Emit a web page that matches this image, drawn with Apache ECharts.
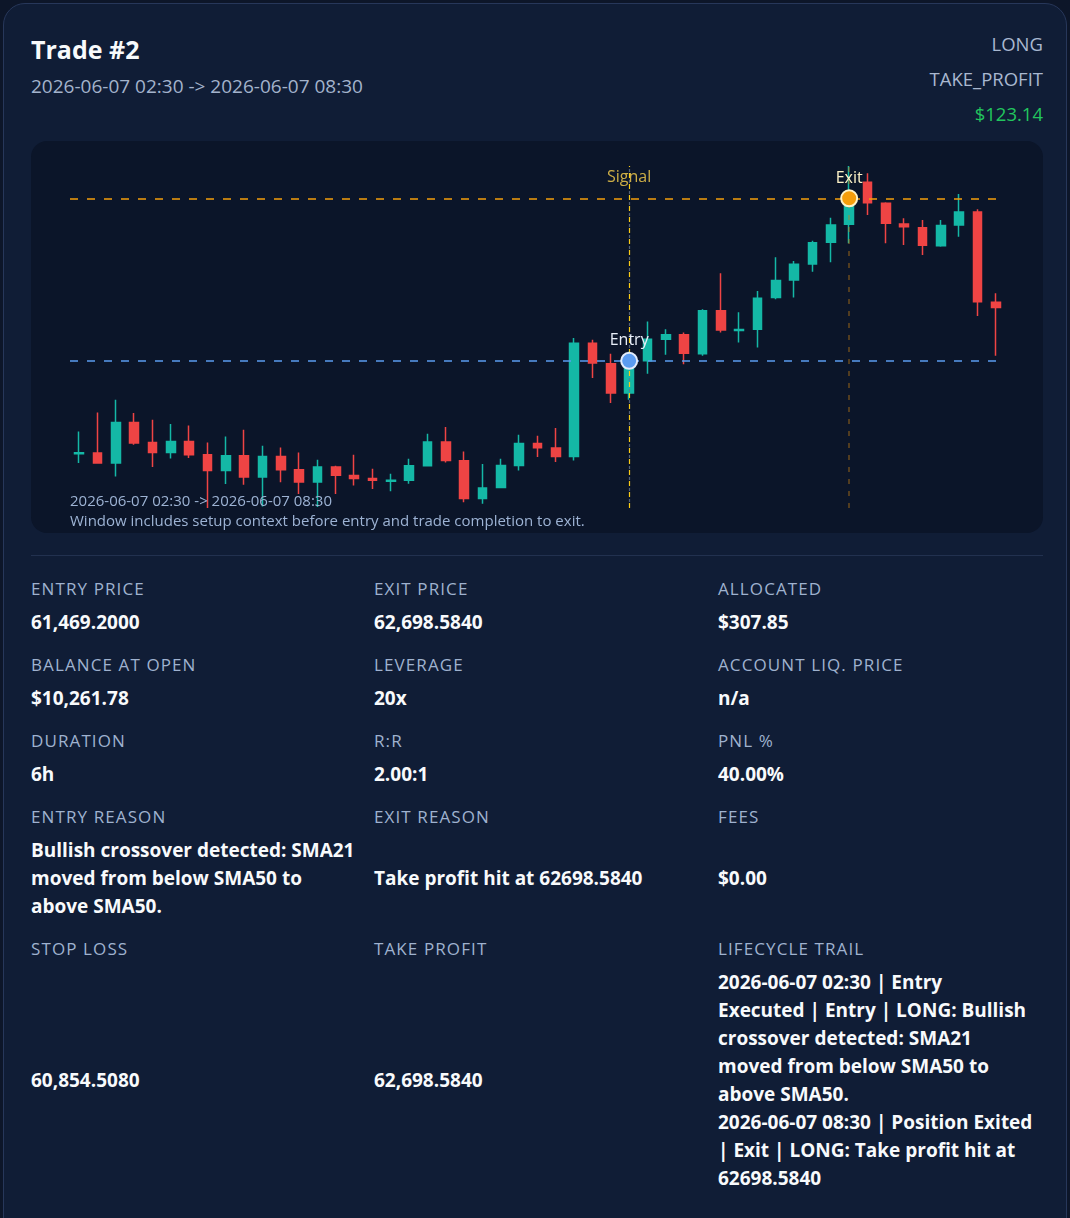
<!DOCTYPE html>
<html>
<head>
<meta charset="utf-8">
<script src="https://cdn.jsdelivr.net/npm/echarts@6/dist/echarts.min.js"></script>
<style>
  html, body { margin: 0; padding: 0; background: #0d1629; width: 1070px; height: 1218px; overflow: hidden; }
  body { font-family: "Segoe UI", "Open Sans", sans-serif; color: #f1f5f9; }
  .card { position: absolute; left: 3px; top: 3px; width: 1062px; height: 1240px; background: #101d36; border: 1px solid #27375a; border-radius: 22px; }
  .abs { position: absolute; white-space: nowrap; }
  .title { left: 31px; top: 33px; font-size: 25px; font-weight: 700; line-height: 32px; color: #f8fafc; }
  .sub { left: 31px; top: 74px; font-size: 19px; line-height: 24px; color: #a3b3cc; }
  .right { right: 27px; font-size: 18.5px; line-height: 24px; color: #a9b8d0; text-align: right; }
  .chartbox { position: absolute; left: 31px; top: 141px; width: 1012px; height: 392px; background: #0b1529; border-radius: 16px; overflow: hidden; }
  #chart { position: absolute; left: 0; top: 0; width: 1012px; height: 392px; }
  .note { position: absolute; left: 39px; font-size: 15px; line-height: 18px; color: #9db3d4; white-space: nowrap; }
  .sep { position: absolute; left: 31px; top: 555px; width: 1012px; height: 1px; background: #22314f; }
  .grid { position: absolute; left: 31px; top: 577px; width: 1030px; display: grid; grid-template-columns: 343px 344px 343px; row-gap: 17px; }
  .cell { display: flex; flex-direction: column; }
  .lab { font-size: 17px; line-height: 24px; letter-spacing: 0.065em; color: #9fb2cf; white-space: nowrap; }
  .val { flex: 1; display: flex; align-items: center; margin-top: 7px; font-size: 19px; font-weight: 700; line-height: 28px; color: #f8fafc; white-space: nowrap; }
</style>
</head>
<body>
<div class="card"></div>
<div class="abs title">Trade #2</div>
<div class="abs sub">2026-06-07 02:30 -&gt; 2026-06-07 08:30</div>
<div class="abs right" style="top:32px">LONG</div>
<div class="abs right" style="top:67px">TAKE_PROFIT</div>
<div class="abs right" style="top:102px;color:#22c55e">$123.14</div>

<div class="chartbox">
  <div id="chart"></div>
  <div class="note" style="top:350px">2026-06-07 02:30 -&gt; 2026-06-07 08:30</div>
  <div class="note" style="top:370px">Window includes setup context before entry and trade completion to exit.</div>
</div>
<div class="sep"></div>

<div class="grid">
  <div class="cell"><div class="lab">ENTRY PRICE</div><div class="val">61,469.2000</div></div>
  <div class="cell"><div class="lab">EXIT PRICE</div><div class="val">62,698.5840</div></div>
  <div class="cell"><div class="lab">ALLOCATED</div><div class="val">$307.85</div></div>

  <div class="cell"><div class="lab">BALANCE AT OPEN</div><div class="val">$10,261.78</div></div>
  <div class="cell"><div class="lab">LEVERAGE</div><div class="val">20x</div></div>
  <div class="cell"><div class="lab">ACCOUNT LIQ. PRICE</div><div class="val">n/a</div></div>

  <div class="cell"><div class="lab">DURATION</div><div class="val">6h</div></div>
  <div class="cell"><div class="lab">R:R</div><div class="val">2.00:1</div></div>
  <div class="cell"><div class="lab">PNL %</div><div class="val">40.00%</div></div>

  <div class="cell"><div class="lab">ENTRY REASON</div><div class="val">Bullish crossover detected: SMA21<br>moved from below SMA50 to<br>above SMA50.</div></div>
  <div class="cell"><div class="lab">EXIT REASON</div><div class="val">Take profit hit at 62698.5840</div></div>
  <div class="cell"><div class="lab">FEES</div><div class="val">$0.00</div></div>

  <div class="cell"><div class="lab">STOP LOSS</div><div class="val">60,854.5080</div></div>
  <div class="cell"><div class="lab">TAKE PROFIT</div><div class="val">62,698.5840</div></div>
  <div class="cell"><div class="lab">LIFECYCLE TRAIL</div><div class="val"><div>2026-06-07 02:30 | Entry<br>Executed | Entry | LONG: Bullish<br>crossover detected: SMA21<br>moved from below SMA50 to<br>above SMA50.<br>2026-06-07 08:30 | Position Exited<br>| Exit | LONG: Take profit hit at<br>62698.5840</div></div></div>
</div>

<script>
// ---- data ----
const times = [
  '2026-06-06 11:30','2026-06-06 12:00','2026-06-06 12:30','2026-06-06 13:00','2026-06-06 13:30',
  '2026-06-06 14:00','2026-06-06 14:30','2026-06-06 15:00','2026-06-06 15:30','2026-06-06 16:00',
  '2026-06-06 16:30','2026-06-06 17:00','2026-06-06 17:30','2026-06-06 18:00','2026-06-06 18:30',
  '2026-06-06 19:00','2026-06-06 19:30','2026-06-06 20:00','2026-06-06 20:30','2026-06-06 21:00',
  '2026-06-06 21:30','2026-06-06 22:00','2026-06-06 22:30','2026-06-06 23:00','2026-06-06 23:30',
  '2026-06-07 00:00','2026-06-07 00:30','2026-06-07 01:00','2026-06-07 01:30','2026-06-07 02:00',
  '2026-06-07 02:30','2026-06-07 03:00','2026-06-07 03:30','2026-06-07 04:00','2026-06-07 04:30',
  '2026-06-07 05:00','2026-06-07 05:30','2026-06-07 06:00','2026-06-07 06:30','2026-06-07 07:00',
  '2026-06-07 07:30','2026-06-07 08:00','2026-06-07 08:30','2026-06-07 09:00','2026-06-07 09:30',
  '2026-06-07 10:00','2026-06-07 10:30','2026-06-07 11:00','2026-06-07 11:30','2026-06-07 12:00',
  '2026-06-07 12:30'
];
const opens = [
  60766, 60772, 60696, 61003, 60852, 60776, 60859, 60759, 60640, 60751,
  60590, 60746, 60645, 60553, 60666, 60602, 60580, 60559, 60565, 60676,
  60855, 60714, 60427, 60512, 60678, 60844, 60810, 60746, 61603, 61447,
  61225, 61469, 61633, 61666, 61522, 61849, 61698, 61709, 61948, 62081,
  62202, 62366, 62502, 62820, 62661, 62504, 62476, 62340, 62497, 62595,
  61913
];
const closes = [
  60774, 60696, 61003, 60847, 60776, 60859, 60759, 60640, 60751, 60590,
  60746, 60646, 60553, 60666, 60603, 60580, 60565, 60565, 60676, 60855,
  60716, 60427, 60507, 60678, 60844, 60812, 60746, 61603, 61452, 61225,
  61492, 61633, 61666, 61527, 61849, 61703, 61706, 61943, 62076, 62200,
  62363, 62497, 62746, 62665, 62510, 62484, 62343, 62492, 62595, 61917,
  61872
];
const lows = [
  60696, 60691, 60595, 60835, 60666, 60731, 60734, 60356, 60538, 60532,
  60368, 60551, 60462, 60364, 60462, 60527, 60500, 60482, 60540, 60671,
  60701, 60399, 60389, 60507, 60640, 60742, 60704, 60716, 61339, 61150,
  61175, 61371, 61515, 61444, 61507, 61683, 61608, 61570, 61935, 61948,
  62144, 62215, 62359, 62572, 62359, 62346, 62270, 62333, 62408, 61809,
  61507
];
const highs = [
  60935, 61079, 61175, 61074, 61023, 60991, 60980, 60852, 60897, 60948,
  60827, 60814, 60776, 60721, 60676, 60759, 60653, 60615, 60729, 60918,
  60968, 60784, 60689, 60729, 60910, 60903, 60961, 61641, 61628, 61522,
  61537, 61766, 61709, 61683, 61860, 62132, 61837, 61998, 62253, 62225,
  62378, 62552, 62943, 62888, 62668, 62547, 62535, 62535, 62731, 62615,
  61981
];
const entryTime = '2026-06-07 02:30';
const exitTime = '2026-06-07 08:30';
const entryPrice = 61469.2;
const exitPrice = 62698.584;

// ---- chart ----
const candles = times.map((t, i) => [opens[i], closes[i], lows[i], highs[i]]);
const topPrice = Math.max.apply(null, highs);
const UP = '#14b8a6', DOWN = '#ef4444';
const FONT = '"Segoe UI","Open Sans",sans-serif';

const chart = echarts.init(document.getElementById('chart'), null, { renderer: 'canvas' });
chart.setOption({
  animation: false,
  backgroundColor: 'transparent',
  grid: { left: 39, right: 38, top: 25, bottom: 25 },
  xAxis: {
    type: 'category', data: times, boundaryGap: true,
    axisLine: { show: false }, axisTick: { show: false }, axisLabel: { show: false }, splitLine: { show: false }
  },
  yAxis: {
    type: 'value', scale: true, min: 'dataMin', max: 'dataMax',
    axisLine: { show: false }, axisTick: { show: false }, axisLabel: { show: false }, splitLine: { show: false }
  },
  series: [
    {
      type: 'candlestick', name: 'Price', data: candles, barWidth: 9,
      itemStyle: { color: UP, color0: DOWN, borderColor: UP, borderColor0: DOWN, borderWidth: 1.5 },
      markLine: {
        silent: true, symbol: ['none', 'none'], animation: false,
        label: { show: false },
        data: [
          { yAxis: entryPrice, lineStyle: { color: '#5b9cf0', type: [8, 9], width: 1.5 } },
          { yAxis: exitPrice, lineStyle: { color: '#f59e0b', type: [8, 9], width: 1.5 } },
          { xAxis: entryTime, lineStyle: { color: '#64748b', type: [3, 8], width: 1.2, dashOffset: 5, opacity: 0.8 } },
          { xAxis: entryTime, lineStyle: { color: '#facc15', type: [5, 6], width: 1.2 } },
          { xAxis: exitTime, lineStyle: { color: 'rgba(202,128,20,0.5)', type: [5, 7], width: 1.5 } }
        ]
      }
    },
    {
      type: 'scatter', name: 'Signal', z: 9, symbolSize: 0,
      data: [[entryTime, topPrice]],
      label: { show: true, position: 'inside', formatter: 'Signal', offset: [0, 11], color: '#fcd34d', fontSize: 16, fontFamily: FONT }
    },
    {
      type: 'scatter', name: 'Entry', z: 10, symbol: 'circle', symbolSize: 16,
      data: [[entryTime, entryPrice]],
      itemStyle: { color: '#5b9cf0', borderColor: '#e2ecfb', borderWidth: 2, opacity: 1 },
      label: { show: true, position: 'top', distance: 3, formatter: 'Entry', color: '#e8eef8', fontSize: 16, fontFamily: FONT }
    },
    {
      type: 'scatter', name: 'Exit', z: 10, symbol: 'circle', symbolSize: 16,
      data: [[exitTime, exitPrice]],
      itemStyle: { color: '#f59e0b', borderColor: '#fef3c7', borderWidth: 2, opacity: 1 },
      label: { show: true, position: 'top', distance: 3, formatter: 'Exit', color: '#fef3c7', fontSize: 16, fontFamily: FONT }
    }
  ]
});
</script>
</body>
</html>
